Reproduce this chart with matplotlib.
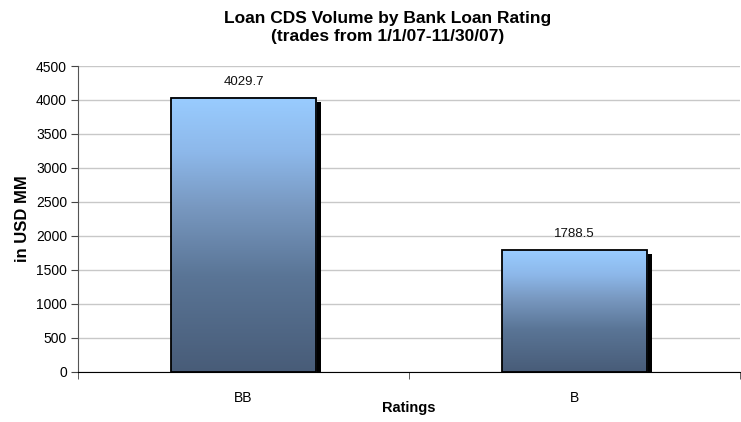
import numpy as np
import matplotlib
matplotlib.use("Agg")
import matplotlib.pyplot as plt
from matplotlib.colors import LinearSegmentedColormap
from matplotlib.patches import Rectangle
from matplotlib.transforms import offset_copy

ratings = ["BB", "B"]
volumes = [4029.7, 1788.5]
yticks = [0, 500, 1000, 1500, 2000, 2500, 3000, 3500, 4000, 4500]

plt.rcParams["font.family"] = ["Liberation Sans", "DejaVu Sans"]

fig = plt.figure(figsize=(7.41, 4.22), dpi=100)
ax = fig.add_axes([0.1053, 0.1185, 0.8934, 0.7251])

bar_w = 0.44
cmap = LinearSegmentedColormap.from_list(
    "barfade",
    [(0.0, "#485C78"), (0.35, "#5A7596"), (0.6, "#7898C0"), (0.8, "#8DB8EA"), (1.0, "#99CCFF")])
grad = np.linspace(0, 1, 256).reshape(-1, 1)
shadow_tr = offset_copy(ax.transData, fig=fig, x=5, y=-4, units="dots")

for i, v in enumerate(volumes):
    x0 = i - bar_w / 2
    ax.add_patch(Rectangle((x0, 0), bar_w, v, facecolor="black", edgecolor="none",
                           transform=shadow_tr, zorder=2, clip_on=True))
    ax.imshow(grad, extent=[x0, x0 + bar_w, 0, v], origin="lower", cmap=cmap,
              aspect="auto", zorder=3, interpolation="bilinear")
    ax.add_patch(Rectangle((x0, 0), bar_w, v, facecolor="none", edgecolor="black",
                           linewidth=1.3, zorder=4))
    ax.text(i, v + 150, f"{v}", ha="center", va="bottom", fontsize=9.5, color="#111111")

ax.set_xlim(-0.5, 1.5)
ax.set_ylim(0, 4500)
ax.set_yticks(yticks)
ax.set_yticklabels([str(t) for t in yticks], fontsize=10)
ax.yaxis.grid(True, color="#C8C8C8", linewidth=1)
ax.set_axisbelow(True)

ax.set_xticks(range(len(ratings)))
ax.set_xticklabels(ratings, fontsize=10)
ax.set_xticks([-0.5, 0.5, 1.5], minor=True)
ax.tick_params(axis="x", which="major", length=0, pad=14)
ax.tick_params(axis="x", which="minor", length=5, direction="out", color="#444444")
ax.tick_params(axis="y", length=5, direction="out", color="#444444", pad=3)

for s in ["top", "right"]:
    ax.spines[s].set_visible(False)
ax.spines["left"].set_color("#555555")
ax.spines["bottom"].set_color("black")

ax.set_ylabel("in USD MM", fontsize=12, fontweight="bold", labelpad=4)
ax.set_xlabel("Ratings", fontsize=10.5, fontweight="bold", labelpad=-3)
fig.text(0.5236, 0.935, "Loan CDS Volume by Bank Loan Rating\n(trades from 1/1/07-11/30/07)",
         ha="center", va="center", fontsize=12.5, fontweight="bold", linespacing=1.3)

fig.savefig("out.png", dpi=100)
